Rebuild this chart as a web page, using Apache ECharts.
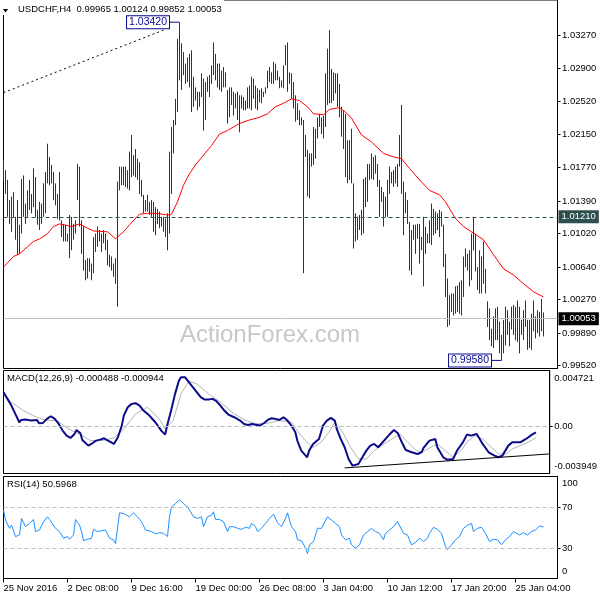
<!DOCTYPE html>
<html>
<head>
<meta charset="utf-8">
<script src="https://cdn.jsdelivr.net/npm/echarts@6.0.0/dist/echarts.min.js"></script>
<style>html,body{margin:0;padding:0;background:#fff}#c{width:600px;height:600px}</style>
</head>
<body>
<div id="c"></div>
<script>
// ---------- data ----------
const symbolName = 'USDCHF,H4';
const lastOHLC = [0.99965, 1.00124, 0.99852, 1.00053];
const xTickLabels = ['25 Nov 2016','2 Dec 08:00','9 Dec 16:00','19 Dec 00:00','26 Dec 08:00','3 Jan 04:00','10 Jan 12:00','17 Jan 20:00','25 Jan 04:00'];
const barSlots = 278;      // bar slots on the time axis (incl. right shift)
const tickEvery = 32;      // bars between time labels
const priceTicks = [0.99520,0.99890,1.00270,1.00640,1.01020,1.01390,1.01770,1.02150,1.02520,1.02900,1.03270];
const macdTicks = [-0.003949, 0, 0.004721];
const rsiTicks = [0, 30, 70, 100];

const highs = [
1.0185,1.0174,1.0163,1.0140,1.0144,1.0149,1.0121,1.0140,1.0112,1.0164,
1.0168,1.0136,1.0151,1.0163,1.0147,1.0176,1.0166,1.0129,1.0138,1.0136,
1.0159,1.0172,1.0204,1.0189,1.0180,1.0172,1.0159,1.0147,1.0172,1.0117,
1.0113,1.0112,1.0102,1.0123,1.0121,1.0113,1.0117,1.0181,1.0178,1.0117,
1.0110,1.0072,1.0074,1.0074,1.0068,1.0098,1.0102,1.0110,1.0106,1.0102,
1.0106,1.0102,1.0095,1.0078,1.0076,1.0068,1.0074,1.0161,1.0178,1.0178,
1.0178,1.0178,1.0174,1.0195,1.0214,1.0191,1.0198,1.0187,1.0183,1.0163,
1.0146,1.0140,1.0146,1.0138,1.0140,1.0138,1.0132,1.0130,1.0127,1.0121,
1.0121,1.0119,1.0125,1.0195,1.0223,1.0231,1.0255,1.0323,1.0342,1.0318,
1.0308,1.0295,1.0302,1.0306,1.0310,1.0280,1.0268,1.0263,1.0263,
1.0284,1.0278,1.0274,1.0280,1.0282,1.0293,1.0319,1.0306,1.0295,1.0295,
1.0287,1.0291,1.0285,1.0265,1.0268,1.0268,1.0263,1.0261,1.0263,1.0259,
1.0259,1.0257,1.0253,1.0268,1.0270,1.0280,1.0278,1.0270,1.0267,1.0265,
1.0267,1.0263,1.0268,1.0287,1.0291,1.0285,1.0297,1.0295,1.0287,1.0280,
1.0276,1.0293,1.0316,1.0319,1.0285,1.0284,1.0274,1.0259,1.0250,1.0242,
1.0234,1.0231,1.0214,1.0197,1.0193,1.0193,1.0223,1.0221,1.0234,1.0238,
1.0234,1.0236,1.0284,1.0312,1.0333,
1.0289,1.0285,1.0284,1.0284,1.0272,1.0246,1.0242,1.0238,1.0208,1.0208,
1.0221,1.0159,1.0125,1.0121,1.0123,1.0129,1.0164,1.0166,1.0181,1.0181,
1.0193,1.0189,1.0191,1.0181,1.0163,1.0155,1.0149,1.0144,1.0163,1.0178,
1.0172,1.0174,1.0178,1.0181,1.0214,1.0248,1.0161,1.0149,1.0140,1.0115,
1.0106,1.0112,1.0112,1.0113,1.0113,1.0098,1.0121,1.0110,1.0102,1.0117,
1.0136,1.0130,1.0127,1.0125,1.0129,1.0127,1.0112,1.0079,1.0051,1.0032,
1.0034,1.0034,1.0042,1.0043,1.0047,1.0049,1.0076,1.0085,1.0079,1.0083,
1.0102,1.0121,1.0102,1.0064,1.0083,1.0076,1.0093,1.0062,1.0025,1.0017,
0.9994,1.0008,1.0017,1.0019,1.0002,0.9987,1.0004,1.0019,1.0015,1.0002,
1.0019,1.0021,1.0019,1.0026,1.0019,1.0004,1.0015,1.0026,1.0004,1.0004,
1.0011,1.0026,1.0008,1.0015,1.0013,1.0028,1.00124
];
const lows = [
1.0161,1.0147,1.0121,1.0113,1.0104,1.0121,1.0095,1.0078,1.0079,1.0102,
1.0121,1.0113,1.0121,1.0129,1.0125,1.0132,1.0121,1.0112,1.0106,1.0113,
1.0121,1.0125,1.0159,1.0157,1.0159,1.0140,1.0134,1.0119,1.0117,1.0098,
1.0093,1.0093,1.0093,1.0074,1.0083,1.0095,1.0102,1.0140,1.0110,1.0079,
1.0060,1.0049,1.0051,1.0059,1.0049,1.0057,1.0081,1.0087,1.0093,1.0081,
1.0091,1.0083,1.0066,1.0064,1.0060,1.0053,1.0045,1.0019,1.0151,1.0157,
1.0157,1.0155,1.0153,1.0151,1.0166,1.0168,1.0166,1.0163,1.0147,1.0144,
1.0125,1.0127,1.0127,1.0123,1.0121,1.0104,1.0100,1.0113,1.0108,1.0110,
1.0104,1.0098,1.0083,1.0102,1.0147,1.0193,1.0225,1.0240,1.0276,1.0265,
1.0282,1.0272,1.0274,1.0268,1.0240,1.0246,1.0253,1.0242,1.0246,
1.0257,1.0219,1.0231,1.0263,1.0257,1.0272,1.0282,1.0276,1.0268,1.0265,
1.0263,1.0268,1.0268,1.0227,1.0234,1.0248,1.0236,1.0244,1.0231,1.0217,
1.0244,1.0242,1.0242,1.0244,1.0244,1.0242,1.0255,1.0244,1.0242,1.0251,
1.0250,1.0257,1.0261,1.0267,1.0274,1.0272,1.0272,1.0276,1.0276,1.0267,
1.0268,1.0267,1.0293,1.0263,1.0272,1.0255,1.0244,1.0229,1.0231,1.0225,
1.0225,1.0057,1.0189,1.0144,1.0142,1.0178,1.0180,1.0187,1.0210,1.0223,
1.0215,1.0210,1.0223,1.0248,1.0250,
1.0250,1.0253,1.0261,1.0246,1.0234,1.0212,1.0198,1.0166,1.0159,1.0163,
1.0159,1.0085,1.0093,1.0095,1.0106,1.0100,1.0102,1.0132,1.0138,1.0163,
1.0164,1.0163,1.0170,1.0155,1.0121,1.0138,1.0110,1.0121,1.0121,1.0147,
1.0159,1.0155,1.0159,1.0155,1.0178,1.0147,1.0100,1.0125,1.0113,1.0060,
1.0055,1.0095,1.0079,1.0096,1.0068,1.0083,1.0042,1.0079,1.0091,1.0091,
1.0089,1.0100,1.0102,1.0106,1.0098,1.0110,1.0064,1.0030,0.9996,0.9998,
1.0013,1.0009,1.0011,1.0013,1.0011,1.0009,1.0030,1.0064,1.0060,1.0042,
1.0049,1.0083,1.0059,1.0038,1.0034,1.0034,1.0045,1.0034,0.9996,0.9981,
0.9974,0.9972,0.9981,0.9981,0.9966,0.9958,0.9966,0.9975,0.9987,0.9974,
0.9993,0.9987,0.9981,0.9979,0.9966,0.9987,0.9981,0.9996,0.9970,0.9972,
0.9970,0.9991,0.9983,0.9989,0.9985,0.9991,0.99852
];
// moving average (bar index, value)
const maLine = [[0,1.0064],[5,1.0076],[8,1.0079],[12,1.0087],[15,1.0093],[18,1.0096],[22,1.0102],[25,1.0110],[28,1.0113],[30,1.0112],[34,1.0110],[38,1.0113],[42,1.0108],[45,1.0105],[52,1.0104],[56,1.0096],[60,1.0104],[63,1.0112],[68,1.0124],[72,1.0125],[77,1.0125],[82,1.0123],[84,1.0124],[87,1.0138],[90,1.0157],[93,1.0170],[96,1.0180],[100,1.0191],[104,1.0202],[108,1.0215],[112,1.0219],[118,1.0227],[123,1.0231],[128,1.0234],[132,1.0238],[136,1.0246],[140,1.0250],[144,1.0255],[148,1.0253],[152,1.0246],[155,1.0238],[160,1.0237],[163,1.0243],[168,1.0245],[171,1.0240],[174,1.0233],[179,1.0214],[184,1.0206],[190,1.0193],[195,1.0189],[199,1.0187],[203,1.0176],[208,1.0163],[213,1.0151],[218,1.0146],[221,1.0138],[226,1.0119],[230,1.0110],[234,1.0104],[240,1.0095],[245,1.0078],[250,1.0062],[255,1.0055],[260,1.0045],[265,1.0036],[270,1.0030]];
const trendLine = [[0,1.0262],[80,1.0333]];
const resistance = 1.01210;
const peakTag = {from: 83, at: 88, value: 1.03420};
const lowTag = {from: 244, at: 249, value: 0.99580};

const macdMain = [[0,0.002894],[2,0.002332],[4,0.00177],[6,0.001068],[8,0.000365],[9,0.000562],[11,0.00059],[14,0.000506],[17,0.000562],[18,0.000281],[20,0.000309],[22,0.000646],[24,0.000871],[26,0.000646],[28,0.000225],[30,-0.000337],[32,-0.000759],[34,-0.000955],[36,-0.000618],[37,-0.000281],[38,-0.000197],[39,-0.000562],[40,-0.001124],[43,-0.001602],[45,-0.001405],[47,-0.00118],[49,-0.001096],[51,-0.000984],[53,-0.00118],[56,-0.001461],[58,-0.000899],[60,0.000084],[61,0.000927],[63,0.00163],[65,0.001911],[67,0.001967],[69,0.00177],[71,0.001349],[74,0.000927],[77,0.000365],[80,-0.000337],[82,-0.000674],[83,0.000084],[85,0.001349],[87,0.002754],[89,0.003878],[90,0.004159],[92,0.004159],[94,0.003737],[96,0.003316],[98,0.002894],[100,0.002473],[102,0.002276],[104,0.002276],[106,0.002332],[108,0.002136],[110,0.00177],[112,0.001349],[114,0.001012],[117,0.000787],[120,0.000506],[122,0.000225],[124,0.00014],[126,0.000225],[127,0.000084],[130,0.000084],[132,0.000281],[134,0.000562],[136,0.000703],[138,0.000646],[140,0.000562],[142,0.000787],[144,0.000506],[146,0.000084],[148,-0.000478],[149,-0.00118],[151,-0.002023],[154,-0.002585],[155,-0.002023],[157,-0.001461],[160,-0.00104],[162,0.000084],[164,0.000506],[166,0.000731],[168,0.000506],[169,-0.000197],[171,-0.00104],[173,-0.001742],[175,-0.002726],[177,-0.003288],[178,-0.003428],[180,-0.003147],[182,-0.002585],[184,-0.002023],[186,-0.001602],[188,-0.001461],[190,-0.001742],[191,-0.001602],[193,-0.00118],[196,-0.000618],[198,-0.000281],[200,-0.000562],[202,-0.001321],[204,-0.001967],[207,-0.002164],[210,-0.002304],[212,-0.002164],[213,-0.001798],[216,-0.00118],[219,-0.00104],[220,-0.001742],[223,-0.002585],[225,-0.002782],[228,-0.002726],[230,-0.002023],[233,-0.001321],[235,-0.000674],[237,-0.000759],[240,-0.000618],[243,-0.001461],[246,-0.002164],[249,-0.002445],[251,-0.002585],[253,-0.002445],[256,-0.001602],[258,-0.001321],[262,-0.001321],[265,-0.00104],[268,-0.000674],[270,-0.000488]];
const macdSignal = [[0,0.002754],[4,0.002051],[10,0.001349],[16,0.000843],[21,0.000562],[27,0.000506],[33,-0.000197],[39,-0.000674],[44,-0.00118],[50,-0.00118],[56,-0.000955],[61,-0.000197],[67,0.001068],[73,0.00163],[79,0.000646],[82,-0.000197],[86,0.000506],[90,0.002754],[94,0.003822],[98,0.003597],[102,0.003035],[105,0.002613],[109,0.002192],[113,0.00163],[117,0.001068],[123,0.000506],[128,0.000225],[134,0.000281],[140,0.000506],[146,0.000365],[149,-0.000337],[153,-0.00118],[157,-0.001742],[161,-0.001321],[165,-0.000478],[168,0.000365],[172,-0.000478],[176,-0.001742],[180,-0.002726],[184,-0.002726],[188,-0.002023],[191,-0.001686],[197,-0.00104],[201,-0.000618],[205,-0.001321],[209,-0.001967],[212,-0.002164],[216,-0.001798],[220,-0.001461],[224,-0.002023],[228,-0.002585],[232,-0.002023],[235,-0.001321],[239,-0.000759],[243,-0.00104],[247,-0.001686],[251,-0.002304],[255,-0.002304],[258,-0.001883],[262,-0.001602],[266,-0.001321],[270,-0.000944]];
const macdTrend = [[173,-0.00348],[277,-0.00230]];

const rsiLine = [[0,67.0],[1,57.3],[3,49.2],[4,52.4],[5,53.4],[6,41.1],[8,42.7],[9,58.9],[11,50.8],[13,54.0],[15,57.9],[16,46.0],[18,47.6],[20,55.7],[22,60.5],[23,57.9],[26,49.2],[28,46.0],[30,39.5],[32,41.1],[33,38.5],[35,42.7],[36,57.9],[38,52.4],[39,46.0],[40,37.2],[42,38.5],[44,39.5],[45,48.2],[47,46.0],[49,46.9],[51,47.6],[53,39.5],[55,37.9],[56,34.0],[58,64.4],[60,63.8],[61,65.4],[63,60.5],[65,64.4],[67,60.5],[69,55.7],[71,47.6],[72,49.2],[74,46.0],[76,43.7],[78,45.0],[80,44.3],[82,41.1],[83,60.5],[84,70.2],[86,73.5],[88,77.3],[90,73.5],[92,70.2],[93,71.8],[95,60.5],[97,58.9],[99,60.5],[100,50.8],[102,60.5],[104,62.1],[105,65.4],[106,57.9],[108,57.9],[110,55.7],[112,46.0],[113,50.8],[115,50.8],[117,49.2],[119,48.2],[121,50.2],[123,49.2],[124,54.0],[126,50.8],[127,46.0],[129,49.2],[131,54.0],[133,58.9],[135,63.1],[137,54.7],[139,50.8],[141,58.9],[142,64.4],[144,50.8],[146,46.0],[147,37.9],[149,37.2],[151,29.8],[152,24.3],[153,33.0],[155,36.2],[157,49.2],[159,49.2],[160,50.2],[162,60.5],[164,57.3],[166,54.0],[168,50.8],[169,42.7],[171,37.9],[173,39.5],[174,33.0],[176,29.8],[178,33.0],[180,42.7],[182,46.0],[184,49.2],[186,46.0],[188,44.3],[190,37.9],[191,44.3],[193,47.6],[195,50.8],[197,55.7],[198,57.3],[200,44.3],[202,42.7],[204,33.0],[206,35.3],[208,39.5],[210,36.2],[212,39.5],[213,44.3],[215,50.2],[217,48.2],[219,44.3],[221,31.4],[222,28.2],[224,33.0],[226,37.9],[228,41.1],[230,49.2],[232,52.4],[234,54.0],[235,46.0],[237,49.2],[239,50.2],[241,44.3],[243,36.2],[245,38.5],[247,37.9],[249,33.0],[251,37.9],[253,41.1],[255,46.0],[256,47.6],[258,42.7],[260,45.0],[262,42.7],[264,46.0],[266,47.6],[268,51.5],[270,50.5968]];

// ---------- build ----------
const FONT = "'Liberation Sans', Arial, sans-serif";
const barColor = '#0f3d58';
const tagColor = '#0a0a96';
const categories = Array.from({length: barSlots}, (_, i) => i % tickEvery === 0 ? (xTickLabels[i / tickEvery] || '') : '');
const barData = highs.map((h, i) => [i, lows[i], h]);
const lastMacd = macdMain[macdMain.length - 1][1];
const lastSig = macdSignal[macdSignal.length - 1][1];
const lastRsi = rsiLine[rsiLine.length - 1][1];

const chart = echarts.init(document.getElementById('c'), null, {renderer: 'canvas'});

const gridBase = {left: 3.5, width: 554, show: true, borderColor: '#000', borderWidth: 1, backgroundColor: 'transparent'};
const txt = {fontFamily: FONT, fontSize: 9.5, color: '#000'};

function xAx(idx, showLabels) {
  return {
    type: 'category', gridIndex: idx, data: categories, boundaryGap: false,
    axisLine: {show: false},
    axisTick: {show: showLabels, interval: tickEvery - 1, length: 4, lineStyle: {color: '#000'}},
    axisLabel: {show: showLabels, interval: tickEvery - 1, align: 'left', margin: 5, ...txt},
    splitLine: {show: false}
  };
}
function tagSeries(tag) {
  return {
    type: 'line', xAxisIndex: 0, yAxisIndex: 0, z: 4,
    symbol: 'circle', symbolSize: 1, showSymbol: true,
    itemStyle: {color: 'rgba(0,0,0,0)'},
    lineStyle: {color: tagColor, width: 1},
    label: {show: false},
    data: [
      {value: [tag.from, tag.value],
        label: {show: true, position: 'left', distance: 0, formatter: tag.value.toFixed(5),
          fontFamily: FONT, fontSize: 10.5, color: tagColor, backgroundColor: '#fff',
          borderColor: tagColor, borderWidth: 1, padding: [1, 2, 0, 2], lineHeight: 11}},
      [tag.at, tag.value]
    ]
  };
}

const option = {
  animation: false,
  backgroundColor: '#fff',
  textStyle: {fontFamily: FONT},
  title: [
    {text: symbolName + '  ' + lastOHLC.map(v => v.toFixed(5)).join(' '), left: 18, top: 4.5, padding: 0, textStyle: {...txt, fontWeight: 'normal'}},
    {text: 'MACD(12,26,9) ' + lastMacd.toFixed(6) + ' ' + lastSig.toFixed(6), left: 7, top: 373.5, padding: 0, textStyle: {...txt, fontWeight: 'normal'}},
    {text: 'RSI(14) ' + lastRsi.toFixed(4), left: 7, top: 479.5, padding: 0, textStyle: {...txt, fontWeight: 'normal'}}
  ],
  graphic: [
    {type: 'text', left: 180, top: 323, z: 0, silent: true,
      style: {text: 'ActionForex.com', font: "24px 'Liberation Sans', Arial, sans-serif", fill: '#c8c8c8'}},
    {type: 'rect', shape: {x: 0, y: 0, width: 224, height: 15}, style: {fill: '#fff'}, z: 5, silent: true},
    {type: 'polygon', shape: {points: [[3, 9], [8, 9], [5.5, 12.5]]}, style: {fill: '#000'}, z: 7, silent: true}
  ],
  grid: [
    {...gridBase, top: -0.5, height: 369},
    {...gridBase, top: 370.5, height: 103},
    {...gridBase, top: 476.5, height: 102}
  ],
  xAxis: [xAx(0, false), xAx(1, false), xAx(2, true)],
  yAxis: [
    {type: 'value', gridIndex: 0, position: 'right', min: 0.99488, max: 1.03672, scale: true,
      axisLine: {show: true, lineStyle: {color: '#000'}},
      axisTick: {show: true, length: 3, customValues: priceTicks, lineStyle: {color: '#000'}},
      axisLabel: {customValues: priceTicks, margin: 4.5, formatter: v => v.toFixed(5), ...txt},
      splitLine: {show: false}},
    {type: 'value', gridIndex: 1, position: 'right', min: macdTicks[0], max: macdTicks[2],
      axisLine: {show: true, lineStyle: {color: '#000'}},
      axisTick: {show: true, length: 3, customValues: [0], lineStyle: {color: '#000'}},
      axisLabel: {customValues: macdTicks, margin: 4.5, ...txt,
        formatter: v => v > 0.000001 ? '{t|' + v.toFixed(6) + '}' : (v < -0.000001 ? '{b|' + v.toFixed(6) + '}' : '0.00'),
        rich: {t: {padding: [16.6, 0, 0, 0], ...txt}, b: {padding: [0, 0, 15.2, 0], ...txt}}},
      splitLine: {show: false}},
    {type: 'value', gridIndex: 2, position: 'right', min: 0, max: 100,
      axisLine: {show: true, lineStyle: {color: '#000'}},
      axisTick: {show: true, length: 3, customValues: [30, 70], lineStyle: {color: '#000'}},
      axisLabel: {customValues: rsiTicks, margin: 4.5, ...txt,
        formatter: v => v >= 99.9 ? '{t|' + v + '}' : (v <= 0.1 ? '{b|' + v + '}' : String(v)),
        rich: {t: {padding: [13.4, 0, 0, 0], ...txt}, b: {padding: [0, 0, 14.6, 0], ...txt}}},
      splitLine: {show: false}}
  ],
  series: [
    {type: 'custom', name: 'bars', xAxisIndex: 0, yAxisIndex: 0, data: barData,
      encode: {x: 0, y: [1, 2]}, z: 2,
      renderItem: (params, api) => {
        const lo = api.coord([api.value(0), api.value(1)]);
        const hi = api.coord([api.value(0), api.value(2)]);
        return {type: 'line', shape: {x1: hi[0], y1: hi[1], x2: lo[0], y2: lo[1]}, style: {stroke: barColor, lineWidth: 1}};
      }},
    {type: 'line', name: 'MA', xAxisIndex: 0, yAxisIndex: 0, data: maLine, symbol: 'none', z: 3,
      lineStyle: {color: '#ff0000', width: 1},
      markLine: {silent: true, symbol: 'none', animation: false, precision: 5,
        data: [
          {yAxis: resistance, lineStyle: {color: '#2f4f4f', type: [4, 3], width: 1},
            label: {show: true, position: 'end', distance: 1, formatter: resistance.toFixed(5), color: '#fff', backgroundColor: '#2f4f4f', padding: [2, 3, 1, 3], fontFamily: FONT, fontSize: 9.5}},
          {yAxis: lastOHLC[3], lineStyle: {color: '#c0c0c0', type: 'solid', width: 1},
            label: {show: true, position: 'end', distance: 1, formatter: lastOHLC[3].toFixed(5), color: '#fff', backgroundColor: '#000', padding: [2, 3, 1, 3], fontFamily: FONT, fontSize: 9.5}}
        ]}},
    {type: 'line', name: 'trend', xAxisIndex: 0, yAxisIndex: 0, data: trendLine, symbol: 'none', z: 3,
      lineStyle: {color: '#000', width: 1, type: [2, 3]}},
    tagSeries(peakTag),
    tagSeries(lowTag),
    {type: 'line', name: 'signal', xAxisIndex: 1, yAxisIndex: 1, data: macdSignal, symbol: 'none', z: 3,
      lineStyle: {color: '#b4b4b4', width: 1},
      markLine: {silent: true, symbol: 'none', label: {show: false}, lineStyle: {color: '#b8b8b8', type: [4, 3], width: 1}, data: [{yAxis: 0}]}},
    {type: 'line', name: 'macd', xAxisIndex: 1, yAxisIndex: 1, data: macdMain, symbol: 'none', z: 4,
      lineStyle: {color: '#0c0c8a', width: 2}},
    {type: 'line', name: 'macdTrend', xAxisIndex: 1, yAxisIndex: 1, data: macdTrend, symbol: 'none', z: 4,
      lineStyle: {color: '#000', width: 1}},
    {type: 'line', name: 'rsi', xAxisIndex: 2, yAxisIndex: 2, data: rsiLine, symbol: 'none', z: 3,
      lineStyle: {color: '#1e90ff', width: 1},
      markLine: {silent: true, symbol: 'none', label: {show: false}, lineStyle: {color: '#c0c0c0', type: [4, 3], width: 1}, data: [{yAxis: 70}, {yAxis: 30}]}}
  ]
};
chart.setOption(option);
</script>
</body>
</html>
